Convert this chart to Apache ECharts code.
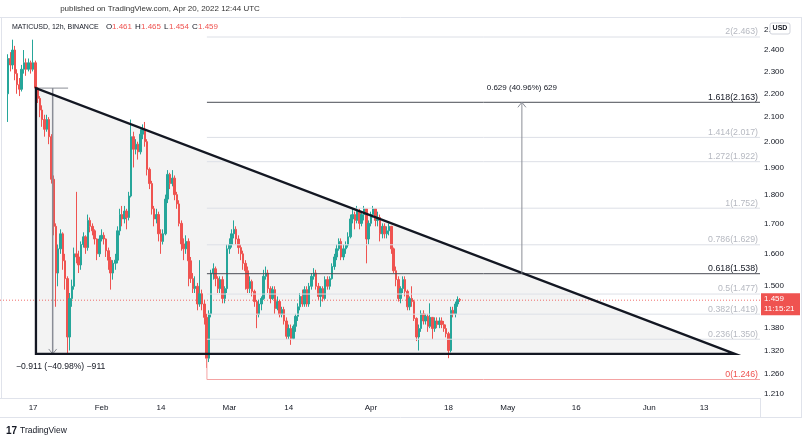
<!DOCTYPE html>
<html><head><meta charset="utf-8">
<script src="https://cdn.jsdelivr.net/npm/echarts@6/dist/echarts.min.js"></script>
<style>html,body{margin:0;padding:0;background:#fff}#c{width:808px;height:440px}</style>
</head><body><div id="c"></div>
<script>
// ---- time scale (12h slots) ----
const axisStart = '2022-01-10T00:00:00Z';
const slotCount = 333;
const candleStart = '2022-01-11T12:00:00Z';

// ---- MATICUSD 12h candles ----
const firstOpen = 2.20;
const closes = [
  2.36,2.33,2.40,2.29,2.24,2.22,2.31,2.34,2.31,2.34,
  2.31,2.34,2.225,2.18,2.13,2.09,2.05,2.09,2.02,1.856,
  1.69,1.54,1.616,1.665,1.578,1.523,1.356,1.464,1.50,1.60,
  1.59,1.565,1.63,1.655,1.62,1.71,1.69,1.675,1.648,1.60,
  1.648,1.66,1.648,1.61,1.58,1.54,1.57,1.58,1.675,1.73,
  1.715,1.742,1.72,1.795,2.02,1.97,1.99,1.96,2.03,2.05,
  2.00,1.893,1.84,1.75,1.715,1.73,1.665,1.64,1.665,1.784,
  1.874,1.84,1.86,1.80,1.767,1.70,1.632,1.616,1.64,1.578,
  1.523,1.493,1.50,1.448,1.478,1.448,1.41,1.30,1.42,1.54,
  1.553,1.523,1.493,1.52,1.464,1.493,1.616,1.63,1.665,1.68,
  1.648,1.62,1.60,1.57,1.547,1.493,1.514,1.485,1.455,1.418,
  1.448,1.464,1.53,1.54,1.493,1.464,1.49,1.435,1.455,1.418,
  1.432,1.40,1.358,1.379,1.352,1.385,1.413,1.44,1.47,1.448,
  1.49,1.448,1.50,1.53,1.54,1.50,1.47,1.493,1.464,1.52,
  1.50,1.523,1.56,1.59,1.616,1.64,1.59,1.616,1.628,1.655,
  1.715,1.73,1.71,1.742,1.70,1.73,1.75,1.648,1.70,1.73,
  1.75,1.71,1.72,1.665,1.69,1.665,1.675,1.69,1.616,1.547,
  1.52,1.464,1.493,1.52,1.485,1.44,1.464,1.455,1.407,1.356,
  1.379,1.42,1.40,1.413,1.385,1.41,1.379,1.40,1.39,1.40,
  1.39,1.379,1.365,1.32,1.43,1.42,1.448,1.461,1.459
];
const highs = [
  2.38,2.39,2.45,2.42,2.31,2.27,2.33,2.40,2.36,2.36,
  2.35,2.45,2.35,2.23,2.19,2.15,2.11,2.11,2.10,2.03,
  1.87,1.70,1.63,1.68,1.67,1.60,1.53,1.48,1.52,1.62,
  1.81,1.61,1.64,1.67,1.66,1.73,1.72,1.70,1.68,1.65,
  1.66,1.68,1.67,1.65,1.62,1.59,1.58,1.60,1.69,1.75,
  1.76,1.76,1.75,1.81,2.09,2.04,2.01,2.00,2.05,2.07,
  2.08,2.01,1.90,1.85,1.76,1.75,1.74,1.68,1.68,1.80,
  1.89,1.88,1.89,1.87,1.81,1.78,1.71,1.65,1.66,1.65,
  1.59,1.54,1.53,1.51,1.58,1.49,1.46,1.42,1.43,1.55,
  1.57,1.56,1.53,1.53,1.53,1.50,1.63,1.65,1.68,1.71,
  1.69,1.66,1.63,1.61,1.58,1.56,1.53,1.52,1.49,1.46,
  1.46,1.47,1.55,1.56,1.55,1.50,1.50,1.50,1.47,1.46,
  1.44,1.44,1.41,1.39,1.39,1.39,1.42,1.45,1.48,1.49,
  1.50,1.50,1.51,1.54,1.555,1.55,1.51,1.50,1.50,1.53,
  1.53,1.53,1.57,1.60,1.63,1.65,1.65,1.63,1.64,1.67,
  1.73,1.75,1.74,1.76,1.75,1.74,1.76,1.75,1.71,1.74,
  1.76,1.75,1.74,1.73,1.70,1.70,1.69,1.70,1.69,1.62,
  1.56,1.53,1.50,1.53,1.53,1.49,1.47,1.50,1.46,1.41,
  1.39,1.43,1.43,1.42,1.42,1.45,1.41,1.41,1.41,1.41,
  1.41,1.40,1.39,1.37,1.44,1.44,1.455,1.47,1.465
];
const lows = [
  2.08,2.30,2.31,2.26,2.20,2.19,2.21,2.29,2.28,2.30,
  2.29,2.30,2.21,2.16,2.10,2.06,2.02,2.04,1.99,1.84,
  1.66,1.44,1.50,1.60,1.55,1.49,1.313,1.32,1.44,1.49,
  1.57,1.54,1.55,1.62,1.60,1.61,1.67,1.66,1.63,1.58,
  1.59,1.64,1.63,1.59,1.55,1.49,1.52,1.55,1.57,1.66,
  1.69,1.70,1.68,1.71,1.79,1.90,1.95,1.93,1.95,2.01,
  1.98,1.87,1.82,1.73,1.69,1.70,1.64,1.60,1.63,1.66,
  1.77,1.82,1.83,1.78,1.75,1.69,1.61,1.58,1.60,1.50,
  1.51,1.48,1.48,1.43,1.44,1.43,1.39,1.275,1.29,1.41,
  1.52,1.50,1.48,1.48,1.45,1.45,1.48,1.60,1.62,1.65,
  1.63,1.60,1.58,1.55,1.49,1.48,1.48,1.47,1.44,1.38,
  1.41,1.43,1.46,1.52,1.48,1.45,1.46,1.42,1.43,1.41,
  1.41,1.39,1.35,1.35,1.335,1.35,1.37,1.40,1.43,1.44,
  1.44,1.44,1.44,1.49,1.52,1.49,1.46,1.44,1.455,1.46,
  1.49,1.49,1.52,1.55,1.58,1.61,1.58,1.58,1.60,1.62,
  1.65,1.70,1.68,1.70,1.68,1.69,1.71,1.57,1.63,1.69,
  1.72,1.69,1.69,1.64,1.65,1.65,1.65,1.66,1.60,1.54,
  1.50,1.455,1.45,1.48,1.47,1.43,1.43,1.44,1.40,1.345,
  1.32,1.37,1.39,1.39,1.37,1.38,1.35,1.37,1.38,1.38,
  1.38,1.37,1.355,1.30,1.315,1.41,1.41,1.44,1.454
];
const lastPrice = 1.459;
const countdown = '11:15:21';

// ---- axes ----
const xTickDates = ['2022-01-17','2022-02-01','2022-02-14','2022-03-01','2022-03-14','2022-04-01','2022-04-18','2022-05-01','2022-05-16','2022-06-01','2022-06-13'];
const xTickLabels = ['17','Feb','14','Mar','14','Apr','18','May','16','Jun','13'];
const yTicks = [2.5,2.4,2.3,2.2,2.1,2.0,1.9,1.8,1.7,1.6,1.5,1.38,1.32,1.26,1.21];
const yMinPrice = 1.201, yMaxPrice = 2.558;

// ---- drawings (anchors in date / price) ----
const triTop = ['2022-01-17T15:00:00Z', 2.225];
const triBase = 1.311;
const triEnd = '2022-06-19T18:00:00Z';
const measureX = '2022-01-21T07:00:00Z';
const measureEndX = '2022-01-24T16:00:00Z';
const measureText = '\u22120.911 (\u221240.98%) \u2212911';
const fibStart = '2022-02-24T02:00:00Z';
const fibRatios = ['2','1.618','1.414','1.272','1','0.786','0.618','0.5','0.382','0.236','0'];
const fibPrices = [2.463,2.163,2.017,1.922,1.752,1.629,1.538,1.477,1.419,1.350,1.246];
const fibKinds  = ['light','dark','light','light','light','light','dark','light','light','light','red'];
const fibWickTop = 1.30;
const arrowX = '2022-05-04T02:00:00Z';
const arrowFrom = 1.538, arrowTo = 2.163;
const arrowText = '0.629 (40.96%) 629';

// ---- build ----
const MS12H = 12*3600*1000;
const t0 = Date.parse(axisStart);
const slotOf = s => (Date.parse(s) - t0) / MS12H;
const categories = Array.from({length: slotCount}, (_, i) => new Date(t0 + i*MS12H).toISOString().slice(0,13));
const tickMap = {};
xTickDates.forEach((d,k) => { tickMap[d + 'T00'] = xTickLabels[k]; });
const startSlot = slotOf(candleStart);
const candleData = [];
for (let i = 0; i < startSlot; i++) candleData.push(['-','-','-','-']);
closes.forEach((c, k) => {
  const o = k === 0 ? firstOpen : closes[k-1];
  candleData.push([o, c, lows[k], highs[k]].map(Math.log));
});
const L = Math.log;
const rightSlot = slotCount - 0.5, leftSlot = -0.5;
const FONT = '"Liberation Sans", Arial, sans-serif';
const fibStyle = {
  light: {stroke:'#dde0e7', text:'#b6b9c1'},
  dark:  {stroke:'#4a4d55', text:'#131722'},
  red:   {stroke:'#f4a3a3', text:'#ef5350'}
};

function renderFill(params, api) {
  const p = (s, v) => api.coord([s, L(v)]);
  const a = p(slotOf(triTop[0]), triTop[1]);
  const b = p(slotOf(triTop[0]), triBase);
  const c = p(slotOf(triEnd), triBase);
  const l1 = p(leftSlot, lastPrice), l2 = p(rightSlot, lastPrice);
  return {type:'group', children:[
    {type:'polygon', shape:{points:[a,b,c]}, style:{fill:'rgba(0,0,0,0.047)', stroke:'none'}},
    {type:'line', shape:{x1:l1[0],y1:l1[1],x2:l2[0],y2:l2[1]}, style:{stroke:'#ef5350', lineWidth:1, lineDash:[1,2], opacity:0.85}}
  ]};
}

function renderOverlay(params, api) {
  const p = (s, v) => api.coord([s, L(v)]);
  const ch = [];
  const ln = (a, b, style) => ch.push({type:'line', shape:{x1:a[0],y1:a[1],x2:b[0],y2:b[1]}, style});
  const txt = (x, y, text, fill, align, size) => ch.push({type:'text', x, y, style:{text, fill, font:(size||8)+'px '+FONT, align:align||'left', verticalAlign:'middle'}});
  // fib levels
  const fs = slotOf(fibStart);
  fibPrices.forEach((v, k) => {
    const st = fibStyle[fibKinds[k]];
    const a = p(fs, v), b = p(rightSlot, v);
    ln(a, b, {stroke: st.stroke, lineWidth: 1});
    txt(b[0]-2, b[1]-5, fibRatios[k] + '(' + v.toFixed(3) + ')', st.text, 'right', 8.8);
  });
  const w1 = p(fs, fibWickTop), w2 = p(fs, fibPrices[fibPrices.length-1]);
  ln(w1, w2, {stroke:'#f4a3a3', lineWidth:1});
  // measure tool
  const mx = slotOf(measureX);
  const mt = p(mx, triTop[1]), mb = p(mx, triBase);
  ln(p(slotOf(triTop[0]), triTop[1]), p(slotOf(measureEndX), triTop[1]), {stroke:'#8a8d96', lineWidth:1});
  ln(mt, mb, {stroke:'#8a8d96', lineWidth:1.5});
  ch.push({type:'polyline', shape:{points:[[mb[0]-4,mb[1]-5],[mb[0],mb[1]],[mb[0]+4,mb[1]-5]]}, style:{stroke:'#8a8d96', lineWidth:1, fill:null}});
  txt(mb[0]+8, mb[1]+13, measureText, '#131722', 'center', 8.6);
  // triangle outline
  const a = p(slotOf(triTop[0]), triTop[1]);
  const b = p(slotOf(triTop[0]), triBase);
  const c = p(slotOf(triEnd), triBase);
  ch.push({type:'polygon', shape:{points:[a,b,c]}, style:{fill:null, stroke:'#131722', lineWidth:2.3, lineJoin:'miter'}});
  // arrow projection
  const ax = slotOf(arrowX);
  const ab = p(ax, arrowFrom), at = p(ax, arrowTo);
  ln(ab, at, {stroke:'#8a8d96', lineWidth:1});
  ch.push({type:'polyline', shape:{points:[[at[0]-4,at[1]+5],[at[0],at[1]],[at[0]+4,at[1]+5]]}, style:{stroke:'#8a8d96', lineWidth:1, fill:null}});
  txt(at[0], at[1]-15, arrowText, '#131722', 'center', 8);
  // last price badge
  const pb = p(rightSlot, lastPrice);
  ch.push({type:'rect', shape:{x:pb[0]+1, y:pb[1]-7, width:39, height:22}, style:{fill:'#ef5350'}});
  txt(pb[0]+4, pb[1]-1, lastPrice.toFixed(3), '#ffffff', 'left', 8);
  txt(pb[0]+4, pb[1]+9, countdown, '#ffffff', 'left', 8);
  return {type:'group', children: ch};
}

const chart = echarts.init(document.getElementById('c'), null, {renderer:'canvas'});
chart.setOption({
  animation: false,
  backgroundColor: '#ffffff',
  grid: {left: 0, right: 48, top: 18, bottom: 42, containLabel: false},
  xAxis: [
    {type:'category', data: categories, boundaryGap: true,
     axisLine:{show:true, lineStyle:{color:'#e0e3eb'}}, axisTick:{show:false}, splitLine:{show:false},
     axisLabel:{interval:(i, v) => tickMap[v] !== undefined, formatter: v => tickMap[v] || '',
       color:'#131722', fontSize:8, fontFamily:FONT, margin:6}},
    {type:'value', min: leftSlot, max: rightSlot, show:false}
  ],
  yAxis: {type:'value', position:'right', min: L(yMinPrice), max: L(yMaxPrice), scale:true,
    axisLine:{show:true, lineStyle:{color:'#e0e3eb'}}, axisTick:{show:false}, splitLine:{show:false},
    axisLabel:{customValues: yTicks.map(L), formatter: v => Math.exp(v).toFixed(3),
      color:'#131722', fontSize:8, fontFamily:FONT, margin:4}},
  series: [
    {type:'custom', xAxisIndex:1, yAxisIndex:0, data:[[0,0]], encode:{x:0,y:1}, renderItem: renderFill, z:1, silent:true, clip:false},
    {type:'candlestick', xAxisIndex:0, yAxisIndex:0, data: candleData, barWidth: 2, z:3, silent:true,
     itemStyle:{color:'#26a69a', color0:'#ef5350', borderColor:'#26a69a', borderColor0:'#ef5350', borderWidth:1}},
    {type:'custom', xAxisIndex:1, yAxisIndex:0, data:[[0,0]], encode:{x:0,y:1}, renderItem: renderOverlay, z:5, silent:true, clip:false}
  ],
  graphic: [
    {type:'line', shape:{x1:0,y1:17.5,x2:801,y2:17.5}, style:{stroke:'#e0e3eb', lineWidth:1}, silent:true},
    {type:'line', shape:{x1:0,y1:417.5,x2:801,y2:417.5}, style:{stroke:'#e0e3eb', lineWidth:1}, silent:true},
    {type:'line', shape:{x1:801.5,y1:17,x2:801.5,y2:418}, style:{stroke:'#e0e3eb', lineWidth:1}, silent:true},
    {type:'line', shape:{x1:760.5,y1:398,x2:760.5,y2:418}, style:{stroke:'#e0e3eb', lineWidth:1}, silent:true},
    {type:'text', x:160, y:9, style:{text:'published on TradingView.com, Apr 20, 2022 12:44 UTC', fill:'#333333', font:'8px '+FONT, align:'center', verticalAlign:'middle'}},
    {type:'text', x:12, y:27, style:{text:'MATICUSD, 12h, BINANCE', fill:'#131722', font:'7px '+FONT, verticalAlign:'middle'}},
    {type:'text', x:106, y:27, style:{text:'O', fill:'#131722', font:'8px '+FONT, verticalAlign:'middle'}},
    {type:'text', x:112, y:27, style:{text:'1.461', fill:'#ef5350', font:'8px '+FONT, verticalAlign:'middle'}},
    {type:'text', x:135, y:27, style:{text:'H', fill:'#131722', font:'8px '+FONT, verticalAlign:'middle'}},
    {type:'text', x:141, y:27, style:{text:'1.465', fill:'#ef5350', font:'8px '+FONT, verticalAlign:'middle'}},
    {type:'text', x:164, y:27, style:{text:'L', fill:'#131722', font:'8px '+FONT, verticalAlign:'middle'}},
    {type:'text', x:169, y:27, style:{text:'1.454', fill:'#ef5350', font:'8px '+FONT, verticalAlign:'middle'}},
    {type:'text', x:192, y:27, style:{text:'C', fill:'#131722', font:'8px '+FONT, verticalAlign:'middle'}},
    {type:'text', x:198, y:27, style:{text:'1.459', fill:'#ef5350', font:'8px '+FONT, verticalAlign:'middle'}},
    {type:'rect', shape:{x:770, y:23, width:20, height:11, r:2}, style:{fill:'#ffffff', stroke:'#d1d4dc', lineWidth:1}, z:100},
    {type:'text', x:780, y:28.5, style:{text:'USD', fill:'#131722', font:'bold 7px '+FONT, align:'center', verticalAlign:'middle'}, z:101},
    {type:'text', x:6, y:431, style:{text:'17', fill:'#131722', font:'900 10px '+FONT, verticalAlign:'middle'}},
    {type:'text', x:20, y:431, style:{text:'TradingView', fill:'#131722', font:'8.5px '+FONT, verticalAlign:'middle'}}
  ]
});
</script>
</body></html>
